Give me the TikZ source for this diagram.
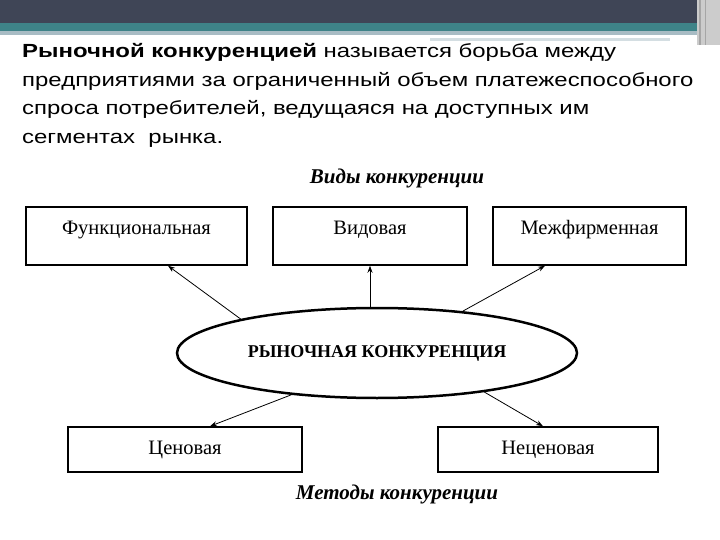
\documentclass[tikz,border=0pt]{standalone}
\usepackage{fontspec}
\usetikzlibrary{arrows.meta,shapes.geometric}
\setmainfont{Liberation Serif}
\newfontfamily\deffont[FakeStretch=1.26]{Liberation Sans}
\definecolor{bardark}{HTML}{3F4556}
\definecolor{barteal}{HTML}{3E8388}
\definecolor{barlight}{HTML}{A8BCC4}
\definecolor{barpale}{HTML}{D4DEE2}
\tikzset{
  kbox/.style={draw, line width=1.5pt, inner sep=0pt, font=\fontsize{20.5}{22}\selectfont},
  kovals/.style={draw, ellipse, line width=2.5pt, inner sep=0pt, font=\bfseries\fontsize{18}{20}\selectfont},
  ktitle/.style={font=\bfseries\itshape\fontsize{21}{24}\selectfont},
  defline/.style={anchor=base west, inner sep=0pt, font=\deffont\fontsize{19}{21}\selectfont},
  karrow/.style={line width=0.8pt, -{Stealth[length=7pt,width=5pt]}}
}
\begin{document}
\begin{tikzpicture}[x=1pt,y=-1pt]
  \useasboundingbox (0,0) rectangle (720,540);
  % slide header
  \fill[bardark] (0,0) rectangle (697,23);
  \fill[barteal] (0,23) rectangle (697,31);
  \fill[barlight] (0,31) rectangle (697,35);
  \fill[barpale] (430,38) rectangle (670,41);
  \fill[gray!40] (697,0) rectangle (720,45);
  \fill[gray!70] (699,0) rectangle (701,45);
  \fill[gray!70] (705,0) rectangle (706,45);

  % definition
  \node[defline] (def1) at (22,58) {\textbf{Рыночной конкуренцией} называется борьба между};
  \node[defline] (def2) at (22,87) {предприятиями за ограниченный объем платежеспособного};
  \node[defline] (def3) at (22,115) {спроса потребителей, ведущаяся на доступных им};
  \node[defline] (def4) at (22,144) {сегментах\ \ рынка.};

  % kinds
  \node[ktitle] (vidy) at (397,178) {Виды конкуренции};
  \node[kbox, minimum width=221, minimum height=58, text height=13, text depth=15] (fun) at (136.5,236) {Функциональная};
  \node[kbox, minimum width=194, minimum height=58, text height=13, text depth=15] (vid) at (370,236) {Видовая};
  \node[kbox, minimum width=193, minimum height=58, text height=13, text depth=15] (mezh) at (589.5,236) {Межфирменная};

  \node[kovals, minimum width=400, minimum height=90] (rk) at (377,353) {РЫНОЧНАЯ КОНКУРЕНЦИЯ};

  % methods
  \node[kbox, minimum width=234, minimum height=45] (cen) at (185,449.5) {Ценовая};
  \node[kbox, minimum width=220, minimum height=45] (necen) at (548,449.5) {Неценовая};
  \node[ktitle] (metody) at (397,494) {Методы конкуренции};

  \coordinate (funin) at ([xshift=31.5]fun.south);
  \coordinate (mezhin) at ([xshift=-44.5]mezh.south);
  \coordinate (cenin) at ([xshift=25]cen.north);
  \coordinate (necenin) at ([xshift=-5]necen.north);

  \draw[karrow] (rk.166.6) -- (funin);
  \draw[karrow] (rk.north -| vid.south) -- (vid.south);
  \draw[karrow] (rk.26) -- (mezhin);
  \draw[karrow] (rk.206.8) -- (cenin);
  \draw[karrow] (rk.340) -- (necenin);
\end{tikzpicture}
\end{document}
